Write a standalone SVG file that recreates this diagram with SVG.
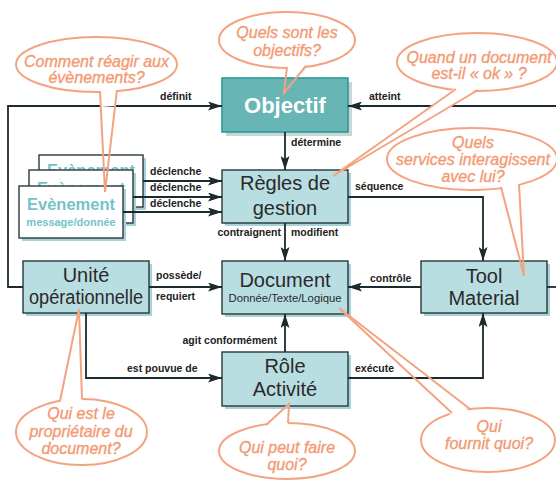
<svg xmlns="http://www.w3.org/2000/svg" width="556" height="480" viewBox="0 0 556 480">
<style>
.box{fill:#b9dee2;stroke:#26383a;stroke-width:1.4}
.sh{fill:#a8d2d7}
.card{fill:#fff;stroke:#2a3a3c;stroke-width:1.4}
.conn{fill:none;stroke:#1b2a2c;stroke-width:1.8}
.arr{marker-end:url(#ah)}
.lbl{font-family:"Liberation Sans",Arial,sans-serif;font-weight:bold;font-size:10.5px;fill:#222}
.t{font-family:"Liberation Sans",Arial,sans-serif;font-size:20px;fill:#2a2a2a;text-anchor:middle}
.ts{font-family:"Liberation Sans",Arial,sans-serif;font-size:11.3px;fill:#2a2a2a;text-anchor:middle}
.ev{font-family:"Liberation Sans",Arial,sans-serif;font-weight:bold;fill:#74c3c9;text-anchor:middle}
.bub{fill:#fff;stroke:#f4a381;stroke-width:2}
.tail{fill:none;stroke:#f4a381;stroke-width:2;stroke-linejoin:miter}
.patch{fill:#fff}
.bt{font-family:"Liberation Sans",Arial,sans-serif;font-style:italic;font-size:16px;fill:#f29a73;stroke:#f29a73;stroke-width:0.35;text-anchor:middle}
</style>
<defs>
<marker id="ah" viewBox="0 0 14 9" refX="14" refY="4.5" markerWidth="14" markerHeight="9" markerUnits="userSpaceOnUse" orient="auto">
<path d="M0,0 L14,4.5 L0,9 L3,4.5 z" fill="#1b2a2c"/>
</marker>
<clipPath id="clipBack"><rect x="39" y="155" width="94" height="15"/><rect x="133" y="155" width="10" height="52"/></clipPath>
<clipPath id="clipMid"><rect x="29" y="170" width="94" height="16"/><rect x="123" y="170" width="10" height="53"/></clipPath>
</defs>

<g id="objectif">
<rect x="226" y="82" width="126" height="54" fill="#c9d6d6"/>
<rect x="222" y="78" width="126" height="54" fill="#67b6b5" stroke="#2a9a96" stroke-width="1.6"/>
<text x="285" y="113" font-family="'Liberation Sans',Arial,sans-serif" font-weight="bold" font-size="22" fill="#fff" text-anchor="middle">Objectif</text>
</g>

<g id="regles">
<rect class="sh" x="225" y="173" width="126" height="53"/>
<rect class="box" x="222" y="170" width="126" height="53"/>
<text class="t" x="285" y="190">Règles de</text>
<text class="t" x="285" y="215">gestion</text>
</g>

<g id="document">
<rect class="sh" x="225" y="264" width="126" height="53"/>
<rect class="box" x="222" y="261" width="126" height="53"/>
<text class="t" x="285" y="287">Document</text>
<text class="ts" x="285" y="302">Donnée/Texte/Logique</text>
</g>

<g id="role">
<rect class="sh" x="225" y="355" width="126" height="54"/>
<rect class="box" x="222" y="352" width="126" height="54"/>
<text class="t" x="285" y="373">Rôle</text>
<text class="t" x="285" y="396">Activité</text>
</g>

<g id="tool">
<rect class="sh" x="424" y="264" width="126" height="52"/>
<rect class="box" x="421" y="261" width="126" height="52"/>
<text class="t" x="484" y="283">Tool</text>
<text class="t" x="484" y="305">Material</text>
</g>

<g id="unite">
<rect class="sh" x="26" y="264" width="126" height="52"/>
<rect class="box" x="23" y="261" width="126" height="52"/>
<text class="t" x="86" y="282">Unité</text>
<text class="t" x="86" y="304" textLength="114" lengthAdjust="spacingAndGlyphs">opérationnelle</text>
</g>

<g id="evenement">
<rect class="sh" x="42" y="158" width="104" height="52"/>
<rect class="card" x="39" y="155" width="104" height="52"/>
<text class="ev" x="91" y="176" font-size="16.5" clip-path="url(#clipBack)">Evènement</text>
<rect class="sh" x="32" y="173" width="104" height="53"/>
<rect class="card" x="29" y="170" width="104" height="53"/>
<text class="ev" x="81" y="194" font-size="16.5" clip-path="url(#clipMid)">Evènement</text>
<rect class="sh" x="22" y="189" width="104" height="52"/>
<rect class="card" x="19" y="186" width="104" height="52"/>
<text class="ev" x="71" y="210" font-size="16.5">Evènement</text>
<text class="ev" x="71" y="226" font-size="11">message/donnée</text>
</g>

<g id="connectors">
<path class="conn arr" d="M23,287 H8 V106 H222"/>
<path class="conn arr" d="M560,106 H348"/>
<path class="conn" d="M547,287 H560"/>
<path class="conn arr" d="M285,132 V170"/>
<path class="conn arr" d="M143,181 H222"/>
<path class="conn arr" d="M133,197 H222"/>
<path class="conn arr" d="M123,212 H222"/>
<path class="conn arr" d="M285,223 V261"/>
<path class="conn arr" d="M348,197 H483 V261"/>
<path class="conn arr" d="M421,287 H348"/>
<path class="conn arr" d="M149,287 H222"/>
<path class="conn arr" d="M86,313 V378 H222"/>
<path class="conn arr" d="M285,352 V314"/>
<path class="conn arr" d="M348,378 H483 V313"/>
<text class="lbl" x="160" y="100">définit</text>
<text class="lbl" x="369" y="100">atteint</text>
<text class="lbl" x="291" y="146">détermine</text>
<text class="lbl" x="150" y="175">déclenche</text>
<text class="lbl" x="150" y="191">déclenche</text>
<text class="lbl" x="150" y="207">déclenche</text>
<text class="lbl" x="281" y="236" text-anchor="end">contraignent</text>
<text class="lbl" x="291" y="236">modifient</text>
<text class="lbl" x="355" y="190">séquence</text>
<text class="lbl" x="370" y="282">contrôle</text>
<text class="lbl" x="156" y="279">possède/</text>
<text class="lbl" x="156" y="300">requiert</text>
<text class="lbl" x="127" y="372">est pouvue de</text>
<text class="lbl" x="277" y="344" text-anchor="end">agit conformément</text>
<text class="lbl" x="355" y="372">exécute</text>
</g>

<g id="bulle-objectifs">
<ellipse class="bub" cx="287" cy="40" rx="68" ry="28"/>
<polygon class="patch" points="287,64 306,63 299,75 286,75"/>
<polyline class="tail" points="287,67 284,93 306,66"/>
<text class="bt" x="287" y="38">Quels sont les</text>
<text class="bt" x="287" y="56">objectifs?</text>
</g>

<g id="bulle-evenements">
<ellipse class="bub" cx="96.5" cy="64.5" rx="80.5" ry="27.5"/>
<polygon class="patch" points="100,89 117,88 115,106 101,107"/>
<polyline class="tail" points="100,91 105,192 117,90"/>
<text class="bt" x="96.5" y="67">Comment réagir aux</text>
<text class="bt" x="96.5" y="83">évènements?</text>
</g>

<g id="bulle-ok">
<ellipse class="bub" cx="477" cy="62" rx="80" ry="29"/>
<polygon class="patch" points="456,87 478,88 449,108 431,107"/>
<polyline class="tail" points="456,89 333,176 478,90"/>
<text class="bt" x="479" y="63">Quand un document</text>
<text class="bt" x="479" y="79">est-il « ok » ?</text>
</g>

<g id="bulle-services">
<ellipse class="bub" cx="472" cy="159" rx="85" ry="31"/>
<polygon class="patch" points="501,185 519,182 520,198 504,201"/>
<polyline class="tail" points="501,187 524,276 519,184"/>
<text class="bt" x="473" y="148">Quels</text>
<text class="bt" x="473" y="165">services interagissent</text>
<text class="bt" x="473" y="182">avec lui?</text>
</g>

<g id="bulle-proprietaire">
<ellipse class="bub" cx="81.5" cy="432" rx="65.5" ry="33"/>
<polygon class="patch" points="60,404 82,402 81.5,386 63,387"/>
<polyline class="tail" points="60,401 79,309 82,399"/>
<text class="bt" x="81" y="419">Qui est le</text>
<text class="bt" x="81" y="437">propriétaire du</text>
<text class="bt" x="81" y="454">document?</text>
</g>

<g id="bulle-faire">
<ellipse class="bub" cx="287" cy="451" rx="68" ry="28"/>
<polygon class="patch" points="266,428 288,426 288,417 273,418"/>
<polyline class="tail" points="266,425 289,404 288,423"/>
<text class="bt" x="287" y="453">Qui peut faire</text>
<text class="bt" x="287" y="470">quoi?</text>
</g>

<g id="bulle-fournit">
<ellipse class="bub" cx="488" cy="440" rx="67" ry="32"/>
<polygon class="patch" points="452,416 470,412 450,394 435,397"/>
<polyline class="tail" points="452,413 339,308 470,409"/>
<text class="bt" x="489" y="432">Qui</text>
<text class="bt" x="489" y="449">fournit quoi?</text>
</g>
</svg>
